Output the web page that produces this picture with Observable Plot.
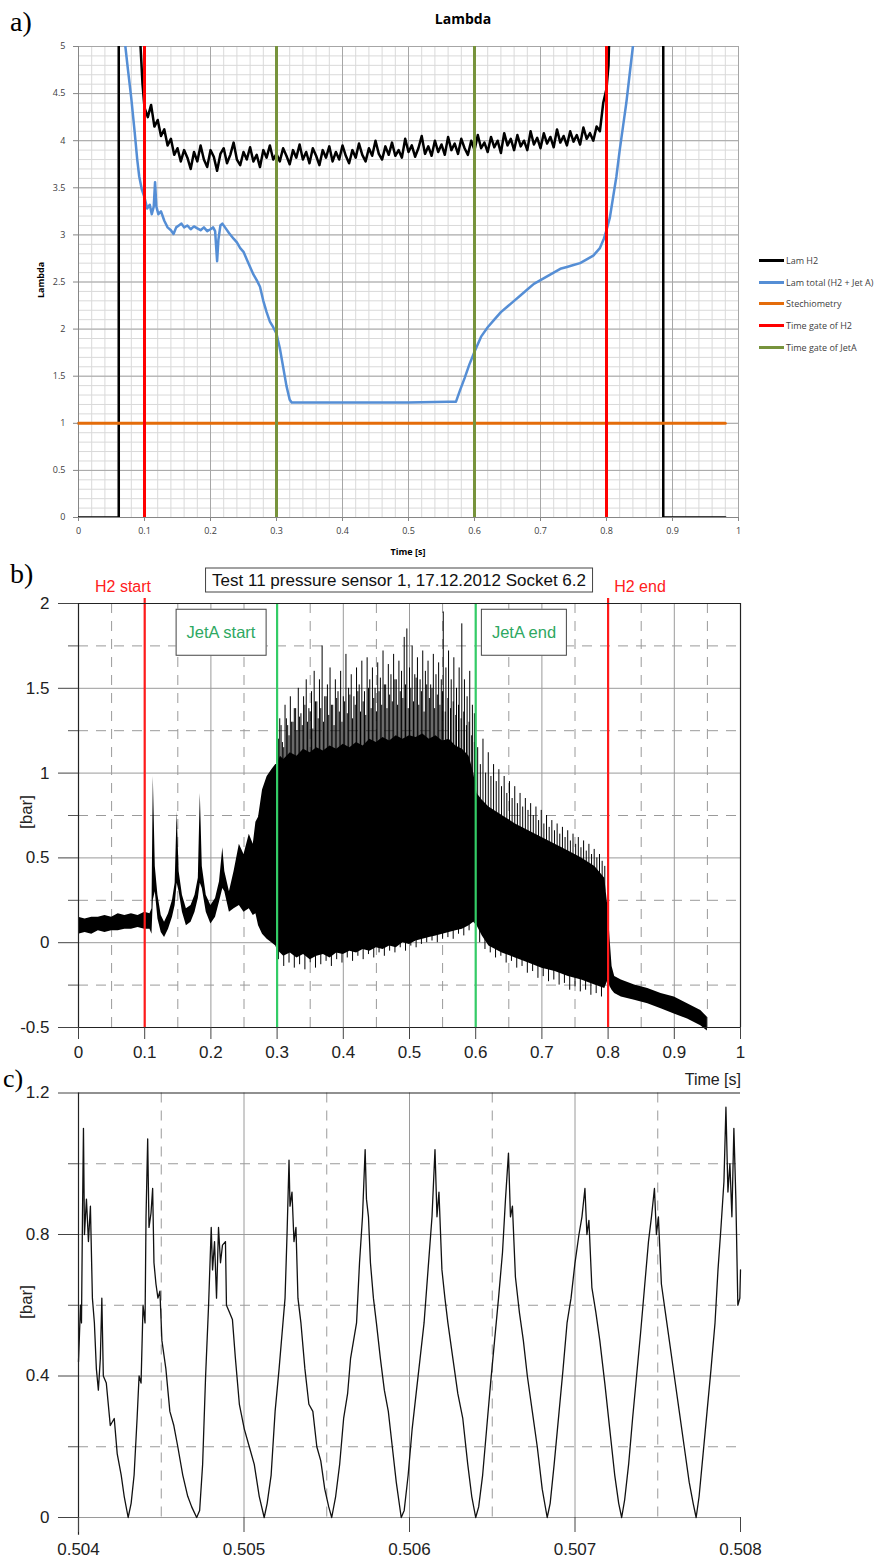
<!DOCTYPE html>
<html><head><meta charset="utf-8">
<script src="https://cdn.jsdelivr.net/npm/d3@7"></script>
<script src="https://cdn.jsdelivr.net/npm/@observablehq/plot@0.6"></script>
<style>
body{margin:0;background:#fff;}
#root{position:relative;width:894px;height:1562px;overflow:hidden;font-family:"Liberation Sans",Arial,sans-serif;}
.abs{position:absolute;white-space:nowrap;line-height:1;}
</style></head><body><div id="root"></div>
<script>
// ---------- Panel a data ----------
const aXTicks = [0,0.1,0.2,0.3,0.4,0.5,0.6,0.7,0.8,0.9,1];
const aYTicks = [0,0.5,1,1.5,2,2.5,3,3.5,4,4.5,5];
const legendNames = ["Lam H2","Lam total (H2 + Jet A)","Stechiometry","Time gate of H2","Time gate of JetA"];
const legendColors = ["#000000","#558ed5","#e46c0a","#ff0000","#77933c"];
const h2Gate = [0.1, 0.8];
const jetAGate = [0.3, 0.6];
const stoichT = [0, 0.98];
const stoichV = [1, 1];
// Lam H2 edges
const lamH2LeftT = [0, 0.061, 0.061];
const lamH2LeftV = [0, 0, 5.6];
const lamH2EntryT = [0.090, 0.094, 0.097];
const lamH2EntryV = [5.6, 5.0, 4.6];
const lamH2RightT = [0.886, 0.886, 0.98];
const lamH2RightV = [5.6, 0, 0];
// Lam H2 noisy part sampled every 0.005 s from 0.100 s
const lamH2Start = 0.1, lamH2Step = 0.005;
const lamH2Values = [4.35,4.25,4.38,4.15,4.22,4.05,4.12,3.95,4.02,3.85,3.92,3.78,3.90,3.82,3.70,3.88,3.78,3.95,3.80,3.72,
3.90,3.83,3.68,3.86,3.92,3.76,3.85,3.98,3.80,3.74,3.88,3.80,3.93,3.78,3.85,3.72,3.90,3.82,3.95,3.80,
3.86,3.78,3.92,3.84,3.75,3.90,3.82,3.96,3.80,3.88,3.76,3.92,3.84,3.74,3.90,3.82,3.94,3.78,3.88,3.80,
3.95,3.84,3.76,3.90,3.82,3.97,3.85,3.78,3.92,3.84,4.00,3.86,3.80,3.94,3.85,3.98,3.84,3.90,3.82,4.02,
3.88,3.95,3.83,3.92,4.05,3.86,3.94,3.84,4.00,3.88,3.96,3.85,4.04,3.90,3.97,3.86,4.02,3.92,3.85,4.00,
3.90,4.06,3.92,3.98,3.88,4.04,3.93,4.00,3.87,4.08,3.95,4.02,3.90,4.06,3.94,4.00,3.90,4.10,3.96,4.03,
3.92,4.08,3.97,4.04,3.93,4.12,3.98,4.05,3.95,4.10,3.99,4.06,3.96,4.14,4.02,4.08,4.00,4.15,4.10,4.40,4.55];
const lamH2TailT = [0.800, 0.803, 0.806];
const lamH2TailV = [4.55, 4.80, 5.6];
// Lam total
const lamTotT = [0.068,0.071,0.075,0.080,0.085,0.089,0.092,0.096,0.100,0.104,0.108,0.111,0.114,0.116,0.118,0.121,0.125,0.130,0.135,0.140,
0.144,0.148,0.152,0.156,0.160,0.165,0.170,0.175,0.180,0.185,0.190,0.195,0.200,0.204,0.207,0.210,0.212,0.215,0.218,0.222,
0.228,0.235,0.240,0.245,0.250,0.255,0.260,0.265,0.270,0.275,0.280,0.285,0.290,0.295,0.300,0.305,0.310,0.315,0.320,0.323,
0.400,0.500,0.560,0.572,0.578,0.585,0.592,0.600,0.610,0.620,0.630,0.640,0.650,0.660,0.670,0.680,0.690,0.700,0.710,0.720,
0.730,0.740,0.750,0.760,0.770,0.780,0.790,0.796,0.800,0.805,0.810,0.815,0.820,0.825,0.830,0.835,0.840,0.845];
const lamTotV = [5.3,5.0,4.75,4.45,4.1,3.8,3.62,3.48,3.40,3.28,3.32,3.22,3.30,3.56,3.30,3.22,3.25,3.15,3.08,3.05,
3.01,3.08,3.10,3.12,3.08,3.10,3.06,3.09,3.07,3.05,3.08,3.04,3.06,3.08,3.04,2.72,2.95,3.10,3.12,3.08,
3.02,2.96,2.92,2.86,2.82,2.74,2.66,2.58,2.52,2.45,2.30,2.18,2.08,2.02,1.95,1.80,1.60,1.40,1.25,1.22,
1.22,1.22,1.23,1.23,1.35,1.48,1.62,1.76,1.92,2.02,2.10,2.18,2.24,2.30,2.36,2.42,2.48,2.52,2.56,2.60,
2.64,2.66,2.68,2.70,2.74,2.78,2.86,2.96,3.05,3.18,3.40,3.62,3.90,4.15,4.40,4.70,5.0,5.3];

// ---------- Panel b data ----------
const bXTicks = [0,0.1,0.2,0.3,0.4,0.5,0.6,0.7,0.8,0.9,1];
const bYTicks = [-0.5,0,0.5,1,1.5,2];
const bYMinor = [-0.25,0.25,0.75,1.25,1.75];
const bXMinor = [0.05,0.15,0.25,0.35,0.45,0.55,0.65,0.75,0.85,0.95];
const bGridX = [0.1,0.2,0.3,0.4,0.5,0.6,0.7,0.8,0.9];
const bGridY = [0,0.5,1,1.5];
// envelope of pressure signal: time, lower, upper
const bandT = [0,0.01,0.02,0.03,0.04,0.05,0.06,0.07,0.08,0.09,0.100,0.108,
0.111,0.113,0.116,0.120,0.125,0.130,0.136,0.142,0.146,0.149,0.152,0.157,0.163,0.170,0.176,0.181,0.184,0.187,
0.193,0.200,0.207,0.213,0.218,0.221,0.228,0.235,0.243,0.250,0.258,0.264,0.268,0.272,0.278,0.285,0.292,0.298,
0.300,0.305,0.31,0.32,0.33,0.34,0.35,0.36,0.37,0.38,0.39,0.40,0.41,0.42,0.43,0.44,0.45,0.46,0.47,0.48,0.49,0.50,
0.51,0.52,0.53,0.54,0.55,0.56,0.57,0.58,0.59,0.597,0.602,0.61,0.62,0.64,0.66,0.68,0.70,0.72,0.74,0.76,0.78,0.795,
0.800,0.803,0.806,0.81,0.82,0.84,0.86,0.88,0.90,0.92,0.94,0.95];
const bandLo = [0.05,0.06,0.05,0.07,0.06,0.07,0.07,0.08,0.08,0.09,0.08,0.08,
0.05,0.25,0.30,0.14,0.06,0.03,0.08,0.15,0.22,0.35,0.30,0.18,0.10,0.12,0.18,0.26,0.35,0.32,
0.18,0.11,0.15,0.24,0.32,0.30,0.18,0.20,0.22,0.18,0.20,0.16,0.17,0.10,0.05,0.02,0.00,-0.02,
-0.04,-0.06,-0.08,-0.06,-0.09,-0.07,-0.10,-0.08,-0.07,-0.09,-0.06,-0.07,-0.05,-0.06,-0.04,-0.05,-0.03,-0.04,-0.02,-0.03,0.00,-0.01,
0.01,0.02,0.03,0.04,0.05,0.06,0.07,0.08,0.10,0.12,0.10,0.04,-0.02,-0.06,-0.09,-0.12,-0.15,-0.17,-0.20,-0.22,-0.25,-0.27,
-0.22,-0.26,-0.28,-0.30,-0.32,-0.34,-0.36,-0.39,-0.42,-0.45,-0.49,-0.52];
const bandHi = [0.15,0.14,0.15,0.15,0.16,0.15,0.17,0.16,0.17,0.16,0.18,0.17,
0.20,0.98,0.45,0.28,0.16,0.12,0.17,0.25,0.35,0.77,0.42,0.28,0.20,0.22,0.28,0.38,0.88,0.45,
0.28,0.22,0.26,0.36,0.56,0.42,0.30,0.42,0.58,0.52,0.64,0.58,0.71,0.74,0.90,0.98,1.02,1.05,
1.05,1.10,1.08,1.12,1.10,1.14,1.12,1.15,1.13,1.16,1.14,1.17,1.15,1.18,1.16,1.20,1.18,1.21,1.19,1.22,1.20,1.22,
1.21,1.23,1.20,1.22,1.19,1.20,1.16,1.14,1.10,1.00,0.88,0.84,0.80,0.75,0.70,0.66,0.62,0.58,0.54,0.50,0.45,0.38,
0.20,0.02,-0.14,-0.20,-0.22,-0.25,-0.27,-0.30,-0.32,-0.36,-0.40,-0.44];
// individual pressure peaks (time, peak value)
const spikeT = [0.300,0.304,0.308,0.312,0.316,0.320,0.324,0.328,0.332,0.336,0.340,0.344,0.348,0.352,0.356,0.360,0.364,0.368,0.372,0.376,
0.380,0.384,0.388,0.392,0.396,0.400,0.404,0.408,0.412,0.416,0.420,0.424,0.428,0.432,0.436,0.440,0.444,0.448,0.452,0.456,
0.460,0.464,0.468,0.472,0.476,0.480,0.484,0.488,0.492,0.496,0.500,0.504,0.508,0.512,0.516,0.520,0.524,0.528,0.532,0.536,
0.540,0.544,0.548,0.551,0.555,0.559,0.563,0.567,0.571,0.575,0.579,0.583,0.587,0.591,0.595,0.598,
0.603,0.607,0.611,0.615,0.619,0.623,0.627,0.631,0.635,0.639,0.643,0.647,0.651,0.655,0.659,0.663,0.667,0.671,0.675,0.679,
0.683,0.687,0.691,0.695,0.699,0.703,0.707,0.711,0.715,0.719,0.723,0.727,0.731,0.735,0.739,0.743,0.747,0.751,0.755,0.759,
0.763,0.767,0.771,0.775,0.779,0.783,0.787,0.791,0.795];
const spikeV = [1.25,1.32,1.18,1.40,1.28,1.45,1.30,1.38,1.50,1.35,1.45,1.55,1.38,1.48,1.60,1.42,1.55,1.75,1.45,1.52,
1.62,1.40,1.55,1.48,1.60,1.45,1.70,1.50,1.58,1.45,1.62,1.52,1.66,1.48,1.68,1.55,1.62,1.50,1.65,1.56,
1.72,1.52,1.64,1.58,1.70,1.55,1.66,1.60,1.80,1.85,1.62,1.75,1.58,1.68,1.55,1.72,1.60,1.66,1.52,1.70,
1.58,1.65,1.55,1.95,1.62,1.72,1.55,1.68,1.50,1.62,1.88,1.55,1.45,1.60,1.40,1.35,
1.15,1.05,1.20,1.00,1.12,0.98,1.05,0.95,1.02,0.92,0.98,0.88,0.95,0.85,0.92,0.82,0.88,0.80,0.85,0.78,
0.82,0.75,0.80,0.72,0.78,0.70,0.75,0.68,0.72,0.66,0.70,0.64,0.68,0.62,0.66,0.60,0.64,0.58,0.62,0.56,
0.60,0.54,0.58,0.52,0.55,0.50,0.52,0.48,0.45];
// secondary peaks between the main ones, sampled every 0.004 s from 0.302 s
const spike2Start = 0.302, spike2Step = 0.004;
const spike2V = [1.20,1.28,1.15,1.32,1.22,1.30,1.38,1.25,1.33,1.28,1.40,1.30,1.36,1.26,1.42,1.32,1.38,1.30,1.45,1.34,
1.40,1.28,1.44,1.36,1.30,1.42,1.35,1.46,1.32,1.40,1.48,1.36,1.42,1.34,1.50,1.38,1.44,1.36,1.48,1.40,
1.52,1.38,1.46,1.42,1.55,1.40,1.48,1.44,1.52,1.38,1.50,1.42,1.56,1.40,1.48,1.36,1.52,1.44,1.50,1.38,
1.46,1.40,1.48,1.36,1.44,1.38,1.42,1.34,1.40,1.32,1.36,1.28,1.30,1.22,1.18];
// downward excursions (time, minimum value)
const dipT = [0.302,0.310,0.318,0.326,0.334,0.342,0.350,0.358,0.366,0.374,0.382,0.390,0.398,0.406,0.414,0.422,0.430,0.438,0.446,0.454,
0.462,0.470,0.478,0.486,0.494,0.502,0.510,0.518,0.526,0.534,0.542,0.550,0.558,0.566,0.574,0.582,0.590,
0.606,0.614,0.622,0.630,0.638,0.646,0.654,0.662,0.670,0.678,0.686,0.694,0.702,0.710,0.718,0.726,0.734,0.742,0.750,0.758,0.766,0.774,0.782,0.790];
const dipV = [-0.10,-0.14,-0.12,-0.15,-0.13,-0.16,-0.12,-0.15,-0.13,-0.11,-0.14,-0.10,-0.12,-0.09,-0.11,-0.08,-0.10,-0.07,-0.09,-0.06,
-0.08,-0.05,-0.06,-0.03,-0.05,-0.02,-0.03,-0.01,0.00,0.01,0.00,0.02,0.03,0.02,0.05,0.04,0.07,
0.00,-0.04,-0.06,-0.09,-0.08,-0.12,-0.11,-0.15,-0.14,-0.18,-0.17,-0.21,-0.20,-0.23,-0.22,-0.25,-0.24,-0.28,-0.26,-0.29,-0.28,-0.31,-0.30,-0.32];

// ---------- Panel c data ----------
const cXTicks = [0.504,0.505,0.506,0.507,0.508];
const cXMinor = [0.5045,0.5055,0.5065,0.5075];
const cYTicks = [0,0.4,0.8,1.2];
const cYMinor = [0.2,0.6,1.0];
const cT = [0.504000,0.504012,0.504018,0.504024,0.504030,0.504036,0.504048,0.504060,0.504072,0.504084,0.504096,0.504108,0.504120,0.504132,0.504141,0.504150,0.504168,0.504192,0.504216,0.504234,0.504258,0.504276,0.504300,0.504318,
0.504336,0.504354,0.504366,0.504378,0.504390,0.504402,0.504408,0.504418,0.504426,0.504438,0.504448,0.504456,0.504468,0.504480,0.504492,0.504504,0.504528,0.504552,0.504576,0.504600,0.504630,0.504660,0.504684,0.504714,
0.504732,0.504750,0.504768,0.504786,0.504802,0.504810,0.504822,0.504834,0.504846,0.504858,0.504870,0.504888,0.504894,0.504912,0.504930,0.504948,0.504972,0.505002,0.505032,0.505062,0.505092,0.505122,
0.505140,0.505164,0.505188,0.505212,0.505230,0.505248,0.505260,0.505272,0.505278,0.505290,0.505302,0.505314,0.505326,0.505344,0.505368,0.505392,0.505416,0.505440,0.505464,0.505488,0.505512,0.505530,
0.505554,0.505578,0.505602,0.505626,0.505644,0.505662,0.505680,0.505698,0.505716,0.505732,0.505740,0.505752,0.505764,0.505782,0.505800,0.505824,0.505848,0.505872,0.505896,0.505920,0.505950,
0.505968,0.505992,0.506016,0.506040,0.506064,0.506088,0.506112,0.506136,0.506154,0.506166,0.506178,0.506196,0.506214,0.506232,0.506262,0.506292,0.506322,0.506352,0.506376,0.506400,
0.506418,0.506442,0.506466,0.506490,0.506514,0.506538,0.506562,0.506580,0.506598,0.506610,0.506622,0.506640,0.506664,0.506688,0.506712,0.506742,0.506772,0.506802,0.506832,
0.506850,0.506874,0.506904,0.506928,0.506952,0.506976,0.507000,0.507024,0.507042,0.507060,0.507072,0.507084,0.507102,0.507126,0.507150,0.507180,0.507210,0.507240,0.507264,0.507282,
0.507300,0.507324,0.507348,0.507372,0.507396,0.507420,0.507444,0.507462,0.507480,0.507492,0.507504,0.507522,0.507546,0.507570,0.507600,0.507630,0.507660,0.507690,0.507714,0.507732,
0.507750,0.507774,0.507798,0.507822,0.507846,0.507864,0.507882,0.507900,0.507912,0.507924,0.507936,0.507948,0.507960,0.507972,0.507984,0.507996,0.508000];
const cV = [0.44,0.60,0.55,0.85,1.10,0.80,0.90,0.78,0.88,0.62,0.55,0.42,0.36,0.45,0.62,0.40,0.38,0.26,0.28,0.18,0.12,0.06,0.00,0.04,
0.12,0.28,0.40,0.38,0.60,0.55,0.85,1.07,0.82,0.86,0.93,0.72,0.66,0.62,0.64,0.50,0.42,0.30,0.26,0.20,0.12,0.06,0.03,0.00,
0.02,0.15,0.40,0.60,0.82,0.70,0.78,0.62,0.82,0.72,0.77,0.78,0.60,0.58,0.56,0.45,0.32,0.25,0.20,0.15,0.06,0.00,
0.04,0.12,0.30,0.42,0.52,0.62,0.80,1.01,0.88,0.92,0.78,0.82,0.62,0.55,0.42,0.32,0.30,0.20,0.16,0.08,0.03,0.00,
0.06,0.15,0.28,0.35,0.45,0.50,0.55,0.72,0.85,1.04,0.90,0.85,0.72,0.62,0.55,0.45,0.36,0.30,0.20,0.10,0.00,
0.02,0.12,0.25,0.35,0.45,0.55,0.70,0.85,1.04,0.85,0.92,0.70,0.62,0.55,0.45,0.35,0.28,0.15,0.06,0.00,
0.03,0.12,0.25,0.38,0.50,0.62,0.75,0.90,1.03,0.85,0.88,0.68,0.58,0.50,0.40,0.30,0.20,0.08,0.00,
0.04,0.15,0.30,0.42,0.55,0.62,0.72,0.80,0.85,0.93,0.80,0.84,0.65,0.58,0.50,0.38,0.25,0.12,0.04,0.00,
0.05,0.15,0.28,0.40,0.52,0.65,0.78,0.85,0.93,0.80,0.85,0.66,0.58,0.50,0.40,0.30,0.20,0.10,0.04,0.00,
0.06,0.18,0.30,0.42,0.55,0.70,0.82,0.95,1.16,0.92,1.00,0.85,1.10,0.90,0.60,0.62,0.70];

// ---------- helpers ----------
const root = document.getElementById("root");
const zip = (xs, ys) => xs.map((x, i) => ({x, y: ys[i]}));
function addPlot(svg, top) {
  svg.style.position = "absolute"; svg.style.left = "0px"; svg.style.top = top + "px";
  root.appendChild(svg);
}
function addText(txt, x, y, css = {}, align = "center") {
  const d = document.createElement("div");
  d.className = "abs"; d.textContent = txt;
  d.style.left = x + "px"; d.style.top = y + "px";
  const tx = align === "center" ? "-50%" : align === "right" ? "-100%" : "0";
  d.style.transform = `translate(${tx},-50%)` + (css.rotate ? ` rotate(${css.rotate})` : "");
  delete css.rotate;
  Object.assign(d.style, css);
  root.appendChild(d);
  return d;
}
const fmt = d => String(d);

// ---------- Panel a ----------
const aMinorX = d3.range(0, 51).map(i => i / 50);
const aMinorY = d3.range(0, 51).map(i => i / 10);
const lamH2Data = lamH2Values.map((v, i) => ({x: lamH2Start + i * lamH2Step, y: v}));
const plotA = Plot.plot({
  width: 894, height: 565,
  marginLeft: 78, marginRight: 156, marginTop: 46, marginBottom: 48,
  x: {domain: [0, 1]}, y: {domain: [0, 5]},
  style: {fontFamily: "'Open Sans', sans-serif", background: "transparent", overflow: "visible"},
  marks: [
    Plot.ruleX(aMinorX, {stroke: "#d9d9d9", strokeWidth: 1}),
    Plot.ruleY(aMinorY, {stroke: "#d9d9d9", strokeWidth: 1}),
    Plot.ruleX(aXTicks, {stroke: "#a6a6a6", strokeWidth: 1}),
    Plot.ruleY(aYTicks, {stroke: "#a6a6a6", strokeWidth: 1}),
    Plot.ruleX([0], {stroke: "#868686"}),
    Plot.ruleY([0], {stroke: "#868686"}),
    Plot.line(zip(lamH2LeftT, lamH2LeftV), {x: "x", y: "y", stroke: "#000", strokeWidth: 2.5, clip: true}),
    Plot.line(zip(lamH2EntryT, lamH2EntryV).concat(lamH2Data).concat(zip(lamH2TailT, lamH2TailV)), {x: "x", y: "y", stroke: "#000", strokeWidth: 2.5, clip: true}),
    Plot.line(zip(lamH2RightT, lamH2RightV), {x: "x", y: "y", stroke: "#000", strokeWidth: 2.5, clip: true}),
    Plot.line(zip(lamTotT, lamTotV), {x: "x", y: "y", stroke: "#558ed5", strokeWidth: 2.5, clip: true}),
    Plot.line(zip(stoichT, stoichV), {x: "x", y: "y", stroke: "#e46c0a", strokeWidth: 3}),
    Plot.ruleX(h2Gate, {y1: 0, y2: 5, stroke: "#ff0000", strokeWidth: 3}),
    Plot.ruleX(jetAGate, {y1: 0, y2: 5, stroke: "#77933c", strokeWidth: 3}),
    Plot.axisX(aXTicks, {tickSize: 4, tickPadding: 6, tickFormat: fmt, fontSize: 9, stroke: "#868686", fill: "#404040", label: null}),
    Plot.axisY(aYTicks, {tickSize: 5, tickPadding: 8, tickFormat: fmt, fontSize: 9, stroke: "#868686", fill: "#404040", label: null})
  ]
});
addPlot(plotA, 0);
addText("Lambda", 463, 19, {fontFamily: "'Open Sans', sans-serif", fontWeight: "bold", fontSize: "14px", color: "#000"});
addText("Lambda", 40, 280, {fontFamily: "'Open Sans', sans-serif", fontWeight: "bold", fontSize: "9px", color: "#000", rotate: "-90deg"});
addText("Time [s]", 408, 551, {fontFamily: "'Open Sans', sans-serif", fontWeight: "bold", fontSize: "9px", color: "#000"});
const legendY = [260, 282, 303, 325, 347];
legendNames.forEach((n, i) => {
  const l = document.createElement("div");
  l.className = "abs";
  Object.assign(l.style, {left: "759px", top: (legendY[i] - 1.5) + "px", width: "25px", height: "3px", background: legendColors[i]});
  root.appendChild(l);
  addText(n, 786, legendY[i], {fontFamily: "'Open Sans', sans-serif", fontSize: "9px", color: "#404040"}, "left");
});

// ---------- Panel b ----------
const bandData = bandT.map((t, i) => ({t, lo: bandLo[i], hi: bandHi[i]}));
const spikeData = spikeT.map((t, i) => ({t, v: spikeV[i]}));
const spike2Data = spike2V.map((v, i) => ({t: spike2Start + i * spike2Step, v}));
const dipData = dipT.map((t, i) => ({t, v: dipV[i]}));
const plotB = Plot.plot({
  width: 894, height: 520,
  marginLeft: 78, marginRight: 154, marginTop: 48, marginBottom: 48,
  x: {domain: [0, 1]}, y: {domain: [-0.5, 2]},
  style: {fontFamily: "'Liberation Sans', Arial, sans-serif", background: "transparent", overflow: "visible"},
  marks: [
    Plot.ruleX(bXMinor, {stroke: "#9a9a9a", strokeDasharray: "10,8"}),
    Plot.ruleY(bYMinor, {stroke: "#9a9a9a", strokeDasharray: "10,8"}),
    Plot.ruleX(bGridX, {stroke: "#9a9a9a"}),
    Plot.ruleY(bGridY, {stroke: "#9a9a9a"}),
    Plot.areaY(bandData, {x: "t", y1: "lo", y2: "hi", fill: "#000"}),
    Plot.ruleX(spikeData, {x: "t", y1: 0.3, y2: "v", stroke: "#000", strokeWidth: 1}),
    Plot.ruleX(spike2Data, {x: "t", y1: 0.3, y2: "v", stroke: "#000", strokeWidth: 1}),
    Plot.ruleX(dipData, {x: "t", y1: 0.3, y2: "v", stroke: "#000", strokeWidth: 1}),
    Plot.ruleX(h2Gate, {y1: -0.5, y2: 2.03, stroke: "#ff1a1a", strokeWidth: 2.2}),
    Plot.ruleX(jetAGate, {y1: -0.5, y2: 2, stroke: "#33cc66", strokeWidth: 2.2}),
    Plot.ruleY([2], {stroke: "#222", strokeWidth: 1.2}),
    Plot.ruleY([-0.5], {stroke: "#222", strokeWidth: 1.2}),
    Plot.ruleX([1], {stroke: "#222", strokeWidth: 1.2}),
    Plot.ruleX([0], {stroke: "#222", strokeWidth: 1.2}),
    Plot.axisY(bYMinor, {tickSize: 10, text: null, stroke: "#555", label: null}),
    Plot.axisY(bYTicks, {tickSize: 20, tickPadding: 9, tickFormat: fmt, fontSize: 17, stroke: "#444", fill: "#222", label: null}),
    Plot.axisX(bXTicks, {tickSize: 12, tickPadding: 6, tickFormat: fmt, fontSize: 17, stroke: "#444", fill: "#222", label: null})
  ]
});
addPlot(plotB, 555);
addText("Test 11 pressure sensor 1, 17.12.2012 Socket 6.2", 399, 580, {fontSize: "17px", color: "#111", border: "1px solid #444", padding: "3px 6px", background: "#fff"});
addText("H2 start", 123, 587, {fontSize: "16px", color: "#ff2020"});
addText("H2 end", 640, 587, {fontSize: "16px", color: "#ff2020"});
addText("JetA start", 221, 632, {fontSize: "16.5px", color: "#2ea862", border: "1px solid #444", padding: "14px 10px", background: "#fff"});
addText("JetA end", 524, 632, {fontSize: "16.5px", color: "#2ea862", border: "1px solid #444", padding: "14px 10px", background: "#fff"});
addText("[bar]", 26, 812, {fontSize: "17px", color: "#222", rotate: "-90deg"});
addText("Time [s]", 741, 1080, {fontSize: "16px", color: "#222"}, "right");

// ---------- Panel c ----------
const plotC = Plot.plot({
  width: 894, height: 487,
  marginLeft: 78, marginRight: 154, marginTop: 17.5, marginBottom: 45,
  x: {domain: [0.504, 0.508]}, y: {domain: [0, 1.2]},
  style: {fontFamily: "'Liberation Sans', Arial, sans-serif", background: "transparent", overflow: "visible"},
  marks: [
    Plot.ruleX(cXMinor, {stroke: "#9a9a9a", strokeDasharray: "10,8"}),
    Plot.ruleY(cYMinor, {stroke: "#9a9a9a", strokeDasharray: "10,8"}),
    Plot.ruleX([0.505, 0.506, 0.507], {stroke: "#9a9a9a"}),
    Plot.ruleY([0, 0.4, 0.8], {stroke: "#9a9a9a"}),
    Plot.line(zip(cT, cV), {x: "x", y: "y", stroke: "#111", strokeWidth: 1.3}),
    Plot.ruleY([1.2], {stroke: "#222", strokeWidth: 1.2}),
    Plot.ruleX([0.504], {y1: -0.05, y2: 1.2, stroke: "#222", strokeWidth: 1.2}),
    Plot.axisY(cYMinor, {tickSize: 10, text: null, stroke: "#555", label: null}),
    Plot.axisY(cYTicks, {tickSize: 20, tickPadding: 9, tickFormat: fmt, fontSize: 17, stroke: "#444", fill: "#222", label: null}),
    Plot.axisX(cXTicks, {tickSize: 15, tickPadding: 10, tickFormat: d3.format(".3f"), fontSize: 17, stroke: "#444", fill: "#222", label: null})
  ]
});
addPlot(plotC, 1075);
addText("[bar]", 26, 1302, {fontSize: "17px", color: "#222", rotate: "-90deg"});

// panel letters
addText("a)", 10, 22, {fontFamily: "'Liberation Serif', 'DejaVu Serif', serif", fontSize: "28px", color: "#000"}, "left");
addText("b)", 10, 574, {fontFamily: "'Liberation Serif', 'DejaVu Serif', serif", fontSize: "28px", color: "#000"}, "left");
addText("c)", 3, 1079, {fontFamily: "'Liberation Serif', 'DejaVu Serif', serif", fontSize: "26px", color: "#000"}, "left");
</script></body></html>
